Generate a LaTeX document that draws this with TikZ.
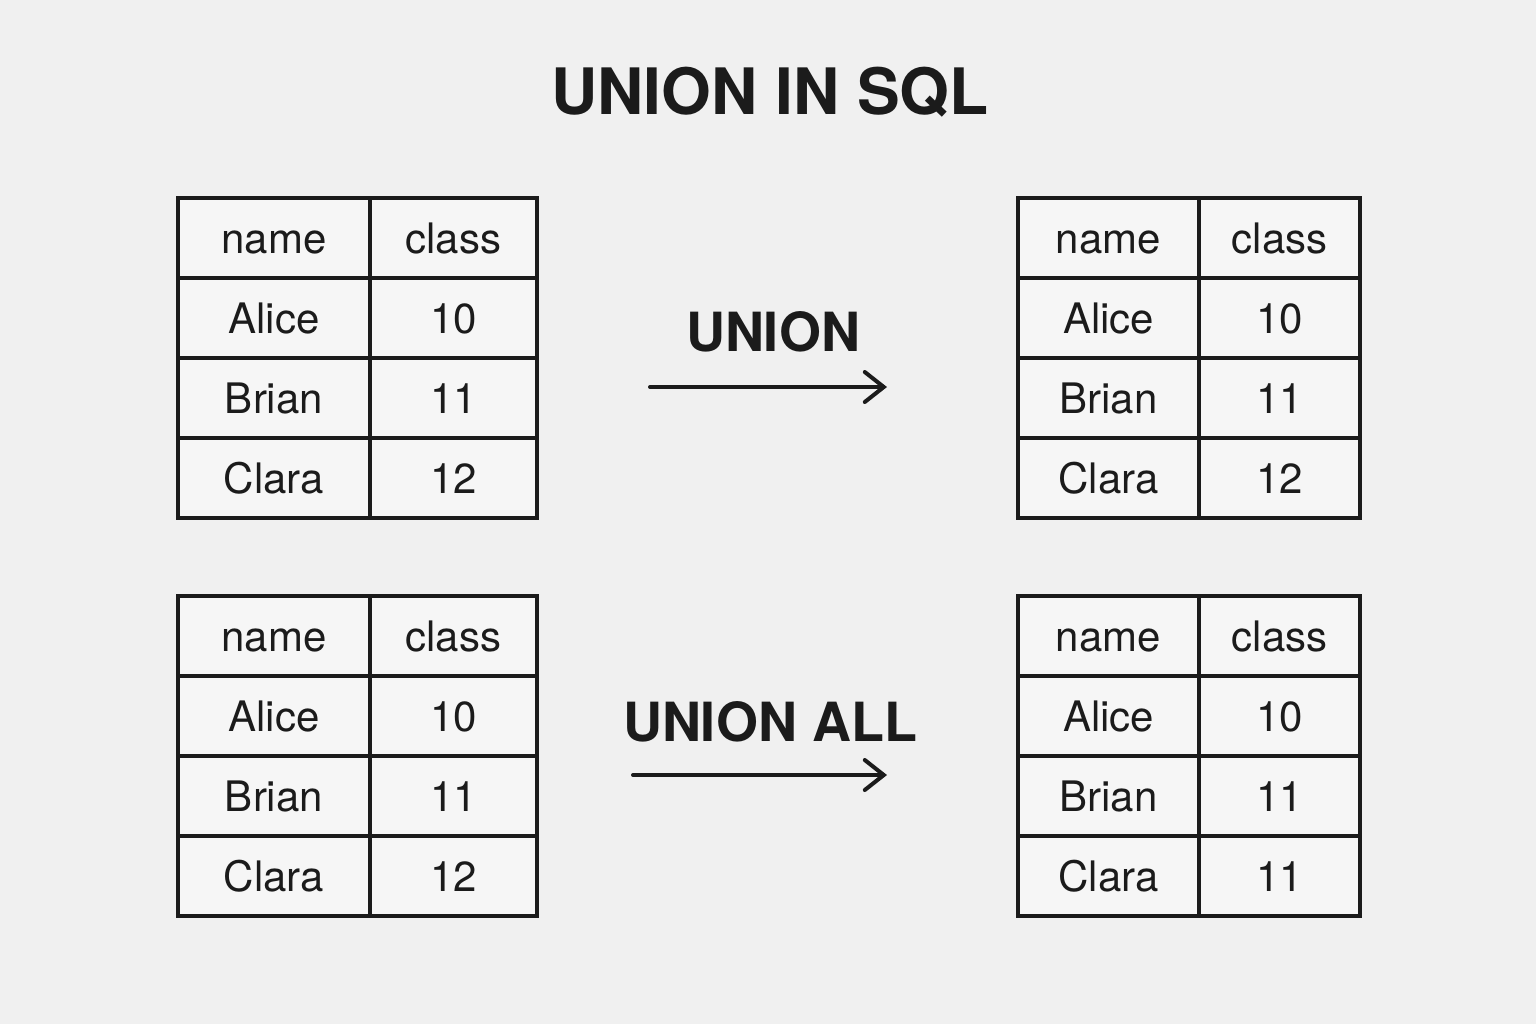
\documentclass[tikz,border=0pt]{standalone}
\usepackage{fontspec}
\setmainfont{TeX Gyre Heros}
\usetikzlibrary{arrows.meta}
\definecolor{paper}{HTML}{F0F0F0}
\definecolor{ink}{HTML}{1B1B1B}
\begin{document}
\begin{tikzpicture}[x=0.5pt,y=-0.5pt]
\tikzstyle{cell}=[draw=ink,fill=paper!60!white,line width=1.8pt,outer sep=0pt,inner sep=0pt,minimum height=40pt,text=ink,text height=15.1pt,text depth=0pt,font=\fontsize{21}{25}\selectfont]
\tikzstyle{op}=[text=ink,anchor=base,inner sep=0pt,font=\bfseries\fontsize{27}{32}\selectfont]
\tikzstyle{arr}=[draw=ink,line width=2pt,line cap=round,-{Straight Barb[length=9.5pt,width=15pt,line cap=round]}]
\fill[paper] (0,0) rectangle (1536,1024);
\node[op,font=\bfseries\fontsize{32}{38}\selectfont] (title) at (770,114) {UNION IN SQL};
% the four tables
\foreach \tb/\x/\y/\wa/\wb/\lc in {lt/178/198/96/83.5/12,rt/1018/198/90.5/80.5/12,lb/178/596/96/83.5/12,rb/1018/596/90.5/80.5/11}
  \foreach \n/\c [count=\row from 0] in {name/class,Alice/10,Brian/11,Clara/\lc}{
    \node[cell,minimum width=\wa pt,anchor=north west] (\tb-\row-a) at (\x,{\y+80*\row}) {\n};
    \node[cell,minimum width=\wb pt,anchor=west] (\tb-\row-b) at (\tb-\row-a.east) {\c};
  }
% operators
\node[op] (union) at (773,351) {UNION};
\coordinate (u1) at (650,387);
\coordinate (u2) at (887,387);
\draw[arr] (u1) -- (u2);
\node[op] (unionall) at (770,741) {UNION ALL};
\coordinate (a1) at (633,775);
\coordinate (a2) at (887,775);
\draw[arr] (a1) -- (a2);
\end{tikzpicture}
\end{document}
